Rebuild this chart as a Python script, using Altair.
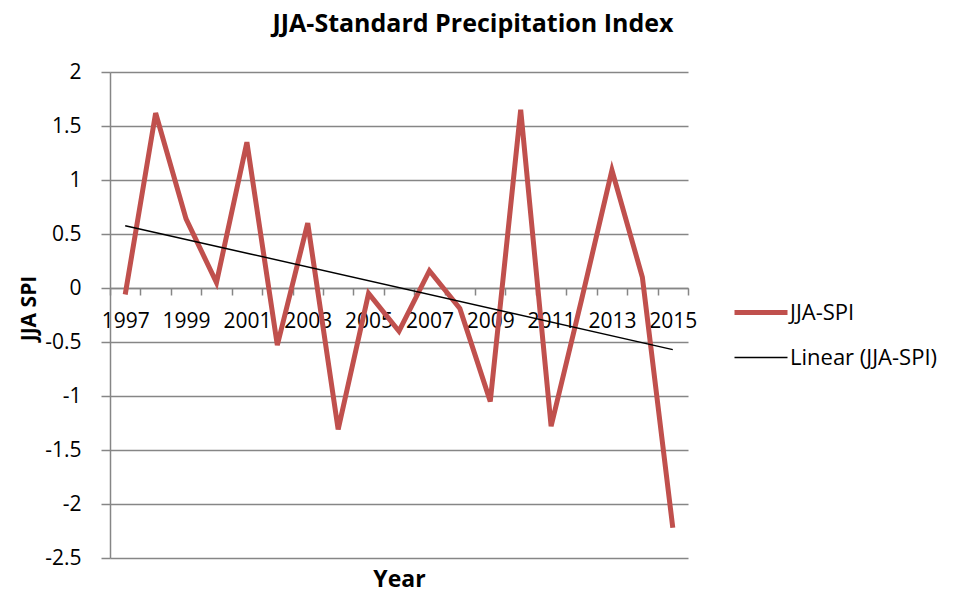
import altair as alt
import pandas as pd

years = list(range(1997, 2016))
spi = [-0.06, 1.62, 0.64, 0.05, 1.35, -0.53, 0.60, -1.31, -0.05, -0.40,
       0.16, -0.19, -1.05, 1.65, -1.28, -0.11, 1.09, 0.10, -2.22]
series_names = ["JJA-SPI", "Linear (JJA-SPI)"]
series_colors = ["#C0504D", "#000000"]
series_widths = [5, 1.5]
y_ticks = [-2.5, -2, -1.5, -1, -0.5, 0, 0.5, 1, 1.5, 2]
x_label_years = list(range(1997, 2016, 2))
x_tick_bounds = [y - 0.5 for y in range(1997, 2017)]

df = pd.DataFrame({"Year": years, "SPI": spi, "Series": series_names[0]})

FONT = "Open Sans"
GRAY = "#868686"
W, H = 578, 486
zero_pos = H * (2 - 0) / 4.5  # pixel position of y=0 in plot area
up = -(H - zero_pos)

xscale = alt.Scale(domain=[1996.5, 2015.5], nice=False, zero=False)
yscale = alt.Scale(domain=[-2.5, 2], nice=False, zero=False)

legend = alt.Legend(title=None, orient="none", legendX=622, legendY=218,
                    symbolType="stroke", symbolSize=2809,
                    labelFontSize=22, labelFont=FONT, labelColor="black",
                    clipHeight=45, rowPadding=0, labelOffset=0, padding=0,
                    labelLimit=300)
color = alt.Color("Series:N",
                  scale=alt.Scale(domain=series_names, range=series_colors),
                  legend=legend)
swidth = alt.StrokeWidth("Series:N",
                         scale=alt.Scale(domain=series_names, range=series_widths),
                         legend=legend)

yaxis = alt.Axis(values=y_ticks, title="JJA SPI", titleFontSize=21, titleFont=FONT,
                 titleFontWeight="bold", titleColor="black",
                 titleX=-81, titleY=236, titleBaseline="middle", titleAngle=270,
                 labelFontSize=21, labelFont=FONT, labelColor="black", labelPadding=20,
                 labelExpr="datum.value + ''",
                 tickSize=9, tickColor=GRAY, tickWidth=1.5, domainColor=GRAY, domainWidth=1.5,
                 gridColor=GRAY, gridWidth=1.5, gridOpacity=1)

label_axis = alt.Axis(values=x_label_years, format="d", orient="bottom", offset=up,
                      ticks=False, domain=False, grid=False, labelFontSize=21, labelFont=FONT,
                      labelColor="black", labelPadding=22, labelOverlap=False, labelFlush=False,
                      title="Year", titleFontSize=23, titleFont=FONT, titleFontWeight="bold",
                      titleColor="black", titleY=H - zero_pos + 10, titleBaseline="top")

tick_axis = alt.Axis(values=x_tick_bounds, orient="bottom", offset=up, labels=False,
                     ticks=True, tickSize=7, tickColor=GRAY, tickWidth=1.5,
                     domain=True, domainColor=GRAY, domainWidth=1.5, grid=False, title=None)

spi_line = alt.Chart(df).mark_line(strokeJoin="miter", strokeCap="butt").encode(
    x=alt.X("Year:Q", scale=xscale, axis=label_axis),
    y=alt.Y("SPI:Q", scale=yscale, axis=yaxis),
    color=color,
    strokeWidth=swidth,
)

trend = alt.Chart(df).transform_regression("Year", "SPI").transform_calculate(
    Series="'Linear (JJA-SPI)'"
).mark_line().encode(
    x=alt.X("Year:Q", scale=xscale, axis=tick_axis),
    y=alt.Y("SPI:Q", scale=yscale, axis=yaxis),
    color=color,
    strokeWidth=swidth,
)

chart = alt.layer(spi_line, trend).resolve_axis(x="independent").properties(
    width=W, height=H,
    autosize=alt.AutoSizeParams(type="none"),
    padding={"left": 102, "top": 64, "right": 260, "bottom": 36},
    title=alt.TitleParams("JJA-Standard Precipitation Index", fontSize=25, font=FONT,
                          fontWeight="bold", color="black", anchor="middle", dx=74,
                          offset=24),
).configure_view(stroke=None)

chart.save("out.html", embed_options={"renderer": "svg", "actions": False})
